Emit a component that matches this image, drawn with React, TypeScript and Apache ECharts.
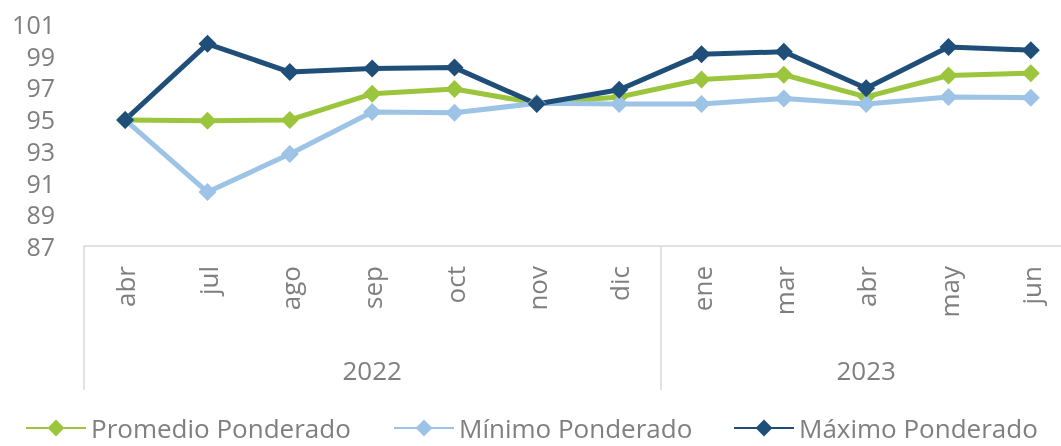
import React, { useEffect, useRef } from "react";
import * as echarts from "echarts";

const months = ["abr", "jul", "ago", "sep", "oct", "nov", "dic", "ene", "mar", "abr", "may", "jun"];
const years = ["2022", "2023"];
const yearGroupSizes = [7, 5];
const yTickLabels = [87, 89, 91, 93, 95, 97, 99, 101];

const promedio = [94.95, 94.9, 94.95, 96.6, 96.9, 96.0, 96.4, 97.5, 97.8, 96.4, 97.75, 97.9];
const minimo = [94.95, 90.4, 92.8, 95.45, 95.4, 96.0, 95.95, 95.95, 96.3, 95.95, 96.4, 96.35];
const maximo = [94.95, 99.75, 97.97, 98.2, 98.25, 95.95, 96.85, 99.1, 99.25, 96.95, 99.55, 99.35];

const seriesNames = ["Promedio Ponderado", "Mínimo Ponderado", "Máximo Ponderado"];
const seriesColors = ["#9bc53d", "#9dc3e6", "#1f4e79"];
const legendLefts = [20, 388, 728];

const FONT = "'Open Sans', sans-serif";
const TEXT_COLOR = "#7f7f7f";
const AXIS_COLOR = "#d9d9d9";

export default function App() {
  const ref = useRef<HTMLDivElement>(null);

  useEffect(() => {
    if (!ref.current) return;
    const chart = echarts.init(ref.current, null, { renderer: "svg" });

    const yearAxisData: string[] = [];
    const boundaries: number[] = [];
    let start = 0;
    yearGroupSizes.forEach((size, gi) => {
      boundaries.push(start);
      for (let k = 0; k < size; k++) {
        yearAxisData.push(k === Math.floor((size - 1) / 2) ? years[gi] : "");
      }
      start += size;
    });

    const allData = [promedio, minimo, maximo];

    chart.setOption({
      animation: false,
      textStyle: { fontFamily: FONT },
      grid: {
        left: 84,
        width: 988,
        top: 24,
        height: 222,
        containLabel: false,
        outerBoundsMode: "none",
      },
      legend: seriesNames.map((name, i) => ({
        left: legendLefts[i],
        top: 410,
        itemWidth: 60,
        itemHeight: 21,
        data: [name],
        textStyle: {
          fontFamily: FONT,
          fontSize: 26,
          lineHeight: 26,
          color: TEXT_COLOR,
        },
      })),
      xAxis: [
        {
          type: "category",
          data: months,
          position: "bottom",
          boundaryGap: true,
          axisLine: { show: true, lineStyle: { color: AXIS_COLOR, width: 1.5 } },
          axisTick: { show: false },
          axisLabel: {
            rotate: 90,
            interval: 0,
            margin: 20,
            fontSize: 26,
            fontFamily: FONT,
            color: TEXT_COLOR,
          },
        },
        {
          type: "category",
          data: yearAxisData,
          position: "bottom",
          boundaryGap: true,
          axisLine: { show: false },
          axisTick: {
            show: true,
            length: 144,
            interval: (i: number) => boundaries.indexOf(i) >= 0,
            lineStyle: { color: AXIS_COLOR, width: 1.5 },
          },
          axisLabel: {
            interval: (i: number, v: string) => v !== "",
            margin: 111,
            fontSize: 26,
            fontFamily: FONT,
            color: TEXT_COLOR,
          },
        },
      ],
      yAxis: {
        type: "value",
        min: 87,
        max: 101,
        axisLine: { show: false },
        axisTick: { show: false },
        splitLine: { show: false },
        axisLabel: {
          customValues: yTickLabels,
          margin: 29,
          fontSize: 25,
          lineHeight: 25,
          fontFamily: FONT,
          color: TEXT_COLOR,
        },
      },
      series: seriesNames.map((name, i) => ({
        name,
        type: "line",
        xAxisIndex: 0,
        data: allData[i],
        symbol: "diamond",
        symbolSize: 18,
        lineStyle: { color: seriesColors[i], width: 5 },
        itemStyle: { color: seriesColors[i] },
      })),
    });

    return () => chart.dispose();
  }, []);

  return (
    <div
      ref={ref}
      style={{ position: "fixed", left: 0, top: 0, width: 1061, height: 446 }}
    />
  );
}
